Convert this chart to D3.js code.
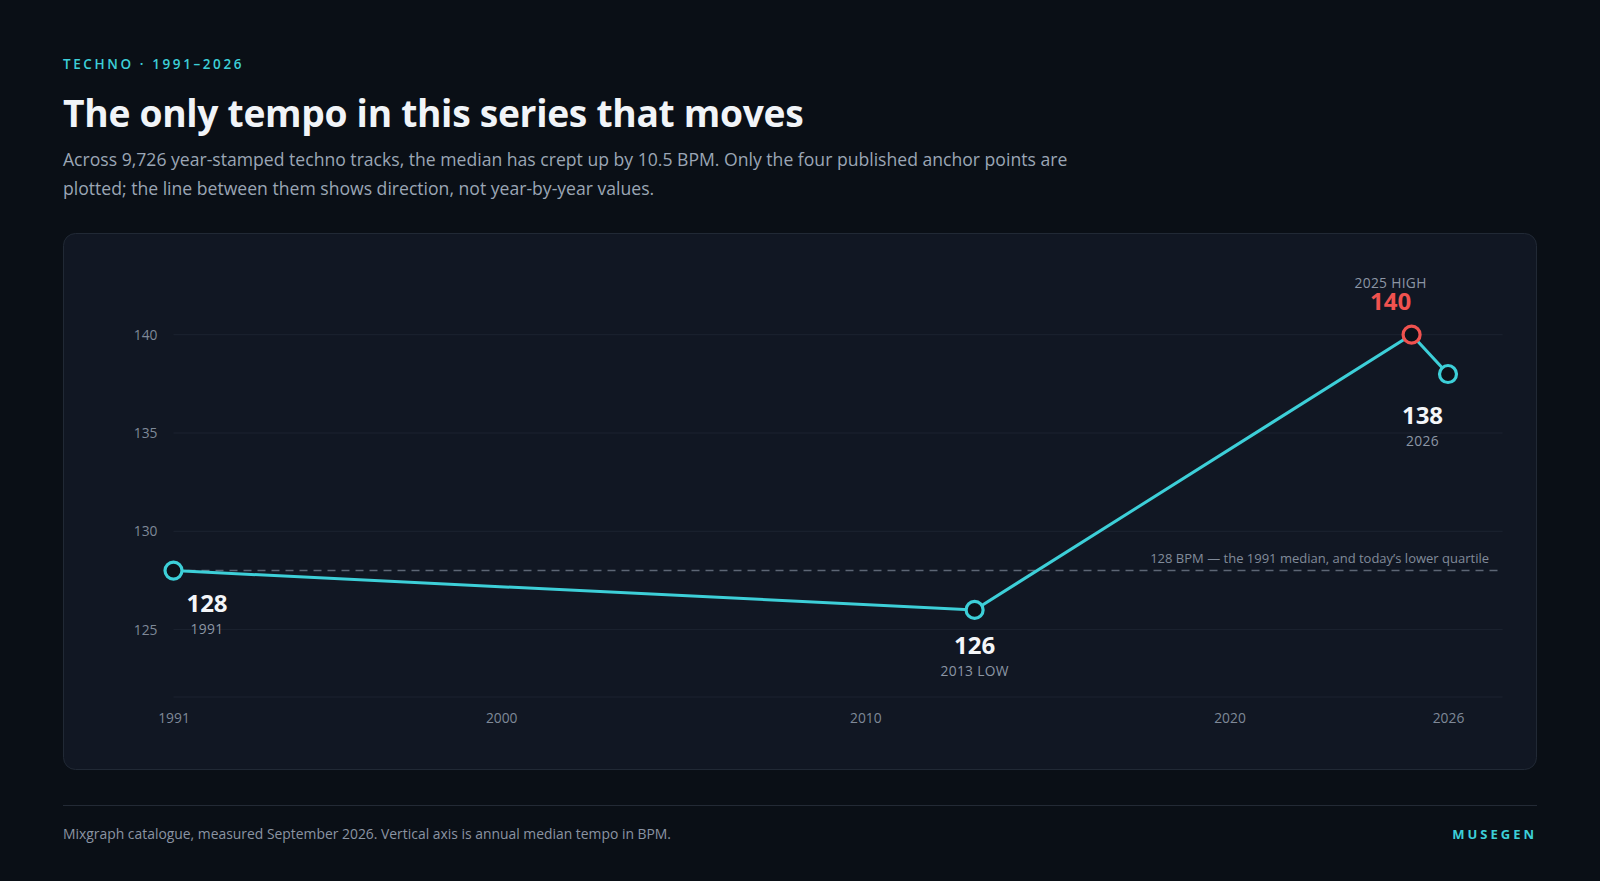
<!DOCTYPE html>
<html>
<head>
<meta charset="utf-8">
<script src="https://cdn.jsdelivr.net/npm/d3@7"></script>
<style>
  html, body { margin: 0; padding: 0; background: #0a0f16; }
  svg { display: block; }
  text { font-family: "Open Sans", "Noto Sans", sans-serif; }
</style>
</head>
<body>
<svg id="chart" width="1600" height="881"></svg>
<script>
// ---- data ----
const years = [1991, 2013, 2025, 2026];
const bpm = [128, 126, 140, 138];
const pointLabels = ["1991", "2013 LOW", "2025 HIGH", "2026"];
const yTicks = [125, 130, 135, 140];
const xTicks = [1991, 2000, 2010, 2020, 2026];
const referenceBpm = 128;
const referenceLabel = "128 BPM — the 1991 median, and today\u2019s lower quartile";

const W = 1600, H = 881;
const svg = d3.select("#chart");
const cyan = "#3dcfd8", red = "#f0524f";

svg.append("rect").attr("width", W).attr("height", H).attr("fill", "#0a0f16");

// header
svg.append("text").attr("x", 63).attr("y", 69)
  .attr("fill", cyan).attr("font-size", 13.5).attr("font-weight", 600)
  .attr("letter-spacing", "2.6px").text("TECHNO · 1991–2026");
svg.append("text").attr("x", 63).attr("y", 127)
  .attr("fill", "#f1f4f8").attr("font-size", 37.2).attr("font-weight", 700)
  .attr("letter-spacing", "-0.3px")
  .text("The only tempo in this series that moves");
const sub = [
  "Across 9,726 year-stamped techno tracks, the median has crept up by 10.5 BPM. Only the four published anchor points are",
  "plotted; the line between them shows direction, not year-by-year values."
];
sub.forEach((s, i) => svg.append("text").attr("x", 63).attr("y", 166 + i * 29)
  .attr("fill", "#9ba6b5").attr("font-size", 17.6).text(s));

// panel
svg.append("rect").attr("x", 63.5).attr("y", 233.5).attr("width", 1473).attr("height", 536)
  .attr("rx", 12).attr("fill", "#111723").attr("stroke", "#212935");

// scales
const x = d3.scaleLinear().domain([1991, 2026]).range([173.5, 1448]);
const y = d3.scaleLinear().domain([125, 140]).range([629.6, 334.7]);
const xEnd = x(2027.5);
const yBottom = 697;

// grid
svg.append("g").selectAll("line").data(yTicks).join("line")
  .attr("x1", x(1991)).attr("x2", xEnd)
  .attr("y1", d => y(d)).attr("y2", d => y(d))
  .attr("stroke", "#1c2330").attr("stroke-width", 1);
svg.append("line").attr("x1", x(1991)).attr("x2", xEnd)
  .attr("y1", yBottom).attr("y2", yBottom)
  .attr("stroke", "#1c2330").attr("stroke-width", 1);

// y axis labels
const yAxis = d3.axisLeft(y).tickValues(yTicks).tickSize(0).tickPadding(16);
svg.append("g").attr("transform", `translate(${x(1991)},0)`).call(yAxis)
  .call(s => s.select(".domain").remove())
  .call(s => s.selectAll("text").attr("fill", "#7f8998").attr("font-size", 13.8)
    .attr("font-family", "'Open Sans', sans-serif"));

// x axis labels
const xAxis = d3.axisBottom(x).tickValues(xTicks).tickFormat(d3.format("d")).tickSize(0).tickPadding(16);
svg.append("g").attr("transform", `translate(0,${yBottom})`).call(xAxis)
  .call(s => s.select(".domain").remove())
  .call(s => s.selectAll("text").attr("fill", "#7f8998").attr("font-size", 13.8)
    .attr("font-family", "'Open Sans', sans-serif"));

// reference line
svg.append("line").attr("x1", x(1991)).attr("x2", xEnd)
  .attr("y1", y(referenceBpm)).attr("y2", y(referenceBpm))
  .attr("stroke", "#5d6675").attr("stroke-width", 1.5).attr("stroke-dasharray", "8,6");
svg.append("text").attr("x", 1489).attr("y", y(referenceBpm) - 8)
  .attr("text-anchor", "end").attr("fill", "#818b9a").attr("font-size", 13)
  .text(referenceLabel);

// line
const pts = years.map((yr, i) => ({ yr, v: bpm[i], label: pointLabels[i] }));
svg.append("path").datum(pts)
  .attr("d", d3.line().x(d => x(d.yr)).y(d => y(d.v)))
  .attr("fill", "none").attr("stroke", cyan).attr("stroke-width", 3);

svg.selectAll("circle.pt").data(pts).join("circle")
  .attr("cx", d => x(d.yr)).attr("cy", d => y(d.v)).attr("r", 8.5)
  .attr("fill", "#0c1119").attr("stroke", d => d.v === d3.max(bpm) ? red : cyan)
  .attr("stroke-width", 3.2);

// point labels (offsets: dx, number baseline dy, sub-label baseline dy)
const offs = [
  { dx: 33.5, n: 41.5, s: 63 },
  { dx: 0, n: 44.5, s: 66 },
  { dx: -21, n: -24.5, s: -47 },
  { dx: -25.5, n: 49.8, s: 71.5 }
];
const lab = svg.append("g");
pts.forEach((d, i) => {
  const px = x(d.yr), py = y(d.v), o = offs[i];
  const isMax = d.v === d3.max(bpm);
  lab.append("text").attr("x", px + o.dx).attr("y", py + o.n).attr("text-anchor", "middle")
    .attr("fill", isMax ? red : "#f4f6f9").attr("font-size", 24).attr("font-weight", 700).text(d.v);
  lab.append("text").attr("x", px + o.dx).attr("y", py + o.s).attr("text-anchor", "middle")
    .attr("fill", "#8c96a5").attr("font-size", 13.8).attr("letter-spacing", "0.3px").text(d.label);
});

// footer
svg.append("line").attr("x1", 63).attr("x2", 1537).attr("y1", 805.5).attr("y2", 805.5)
  .attr("stroke", "#232a35");
svg.append("text").attr("x", 63).attr("y", 839).attr("fill", "#8a94a3").attr("font-size", 13.9)
  .text("Mixgraph catalogue, measured September 2026. Vertical axis is annual median tempo in BPM.");
svg.append("text").attr("x", 1537).attr("y", 839).attr("text-anchor", "end")
  .attr("fill", cyan).attr("font-size", 13).attr("font-weight", 700).attr("letter-spacing", "3px")
  .text("MUSEGEN");
</script>
</body>
</html>
